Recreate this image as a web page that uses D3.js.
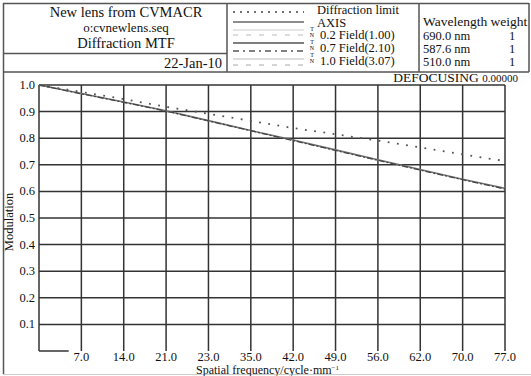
<!DOCTYPE html>
<html>
<head>
<meta charset="utf-8">
<script src="https://cdn.jsdelivr.net/npm/d3@7"></script>
<style>
  body { margin: 0; background: #fff; }
  text { font-family: "Liberation Serif", "Times New Roman", serif; fill: #111; }
</style>
</head>
<body>
<script>
// spatial frequency samples (cycle/mm)
const freq = [0, 7, 14, 21, 28, 35, 42, 49, 56, 63, 70, 77];
// modulation
const diffraction = [1.0, 0.974, 0.947, 0.918, 0.892, 0.865, 0.838, 0.815, 0.791, 0.765, 0.739, 0.714];
const axisMtf = [1.0, 0.968, 0.936, 0.903, 0.866, 0.829, 0.793, 0.756, 0.719, 0.682, 0.646, 0.612];
const field07 = [1.0, 0.967, 0.935, 0.902, 0.865, 0.828, 0.791, 0.754, 0.717, 0.680, 0.644, 0.609];

const xTicks = [7, 14, 21, 28, 35, 42, 49, 56, 63, 70, 77];
const xTickLabels = ['7.0', '14.0', '21.0', '23.0', '35.0', '42.0', '49.0', '56.0', '62.0', '70.0', '77.0'];
const yTicks = [0.1, 0.2, 0.3, 0.4, 0.5, 0.6, 0.7, 0.8, 0.9, 1.0];

const titleLines = ['New lens from CVMACR', 'o:cvnewlens.seq', 'Diffraction MTF'];
const dateLabel = '22-Jan-10';
const legendLabels = ['Diffraction limit', 'AXIS', '0.2 Field(1.00)', '0.7 Field(2.10)', '1.0 Field(3.07)'];
const wavelengths = ['690.0 nm', '587.6 nm', '510.0 nm'];
const weights = ['1', '1', '1'];

const W = 531, H = 376;
const svg = d3.select('body').append('svg').attr('width', W).attr('height', H);

const x = d3.scaleLinear().domain([0, 77]).range([39, 505]);
const y = d3.scaleLinear().domain([0, 1]).range([351, 85]);

const frame = '#555';

// outer frame
svg.append('line').attr('x1', 3.5).attr('x2', 3.5).attr('y1', 3).attr('y2', 374)
  .attr('stroke', frame).attr('stroke-width', 1.5);
svg.append('line').attr('x1', 3).attr('x2', 531).attr('y1', 374.5).attr('y2', 374.5)
  .attr('stroke', '#ccc').attr('stroke-width', 1);

// header boxes
const hdr = svg.append('g').attr('stroke', frame).attr('stroke-width', 1.5);
hdr.append('line').attr('x1', 3).attr('x2', 529).attr('y1', 3.5).attr('y2', 3.5);
hdr.append('line').attr('x1', 3).attr('x2', 227).attr('y1', 53.5).attr('y2', 53.5);
hdr.append('line').attr('x1', 3).attr('x2', 529).attr('y1', 72).attr('y2', 72);
hdr.append('line').attr('x1', 227).attr('x2', 227).attr('y1', 3).attr('y2', 72);
hdr.append('line').attr('x1', 419).attr('x2', 419).attr('y1', 3).attr('y2', 72);
hdr.append('line').attr('x1', 529).attr('x2', 529).attr('y1', 3).attr('y2', 72);

// title
svg.selectAll('.title').data(titleLines).enter().append('text')
  .attr('x', 126).attr('y', (d, i) => [17, 32, 48][i])
  .attr('text-anchor', 'middle')
  .style('font-size', (d, i) => i === 1 ? '13px' : '14.5px')
  .text(d => d);
svg.append('text').attr('x', 222).attr('y', 68).attr('text-anchor', 'end')
  .style('font-size', '14.5px').text(dateLabel);

// legend samples
const samples = [
  { y: 12, stroke: '#444', dash: '2,5', w: 1.6 },
  { y: 22, stroke: '#666', dash: null, w: 1.4 },
  { y: 30, stroke: '#ccc', dash: null, w: 1 },
  { y: 35, stroke: '#bbb', dash: '5,8', w: 1 },
  { y: 43, stroke: '#555', dash: null, w: 1.6 },
  { y: 51, stroke: '#555', dash: '6,4,2,4', w: 1.6 },
  { y: 59, stroke: '#bbb', dash: null, w: 1 },
  { y: 65, stroke: '#aaa', dash: '5,8', w: 1 },
];
svg.selectAll('.sample').data(samples).enter().append('line')
  .attr('x1', 233).attr('x2', 304)
  .attr('y1', d => d.y).attr('y2', d => d.y)
  .attr('stroke', d => d.stroke).attr('stroke-width', d => d.w)
  .attr('stroke-dasharray', d => d.dash);

svg.selectAll('.tn').data(['T', 'N', 'T', 'N', 'T', 'N']).enter().append('text')
  .attr('x', 312).attr('y', (d, i) => [31, 37, 44, 50, 57, 63][i])
  .attr('text-anchor', 'middle')
  .style('font-size', '6px').text(d => d);

svg.selectAll('.leg').data(legendLabels).enter().append('text')
  .attr('x', (d, i) => i < 2 ? 317 : 320)
  .attr('y', (d, i) => [14, 26.5, 39, 52, 65][i])
  .style('font-size', '12.5px')
  .text(d => d);

// wavelength box
svg.append('text').attr('x', 423).attr('y', 26).style('font-size', '13.5px').text('Wavelength weight');
svg.selectAll('.wl').data(wavelengths).enter().append('text')
  .attr('x', 423).attr('y', (d, i) => 40 + i * 13)
  .style('font-size', '12.5px').text(d => d);
svg.selectAll('.wt').data(weights).enter().append('text')
  .attr('x', 512).attr('y', (d, i) => 40 + i * 13)
  .attr('text-anchor', 'middle')
  .style('font-size', '12.5px').text(d => d);

// defocusing label
const def = svg.append('text').attr('x', 518).attr('y', 82).attr('text-anchor', 'end');
def.append('tspan').style('font-size', '13.5px').text('DEFOCUSING ');
def.append('tspan').style('font-size', '11px').text('0.00000');

// grid
const grid = svg.append('g').attr('stroke', '#333').attr('stroke-width', 1.5);
grid.selectAll('.hg').data(yTicks).enter().append('line')
  .attr('x1', x(0)).attr('x2', x(77))
  .attr('y1', d => y(d)).attr('y2', d => y(d));
grid.selectAll('.vg').data(xTicks).enter().append('line')
  .attr('x1', d => x(d)).attr('x2', d => x(d))
  .attr('y1', y(0)).attr('y2', y(1));
grid.append('line').attr('x1', x(0)).attr('x2', x(0)).attr('y1', y(0)).attr('y2', y(1));
grid.append('line').attr('x1', x(0)).attr('x2', x(4.9)).attr('y1', y(0)).attr('y2', y(0));

// y tick labels
svg.selectAll('.yl').data(yTicks).enter().append('text')
  .attr('x', 35).attr('y', d => y(d) + 4)
  .attr('text-anchor', 'end')
  .style('font-size', '12.5px')
  .text(d => d.toFixed(1));

// x tick labels
svg.selectAll('.xl').data(xTicks).enter().append('text')
  .attr('x', d => x(d)).attr('y', 360.5)
  .attr('text-anchor', 'middle')
  .style('font-size', '12.5px')
  .text((d, i) => xTickLabels[i]);

// axis titles
const xt = svg.append('text').attr('x', 196).attr('y', 373.5).style('font-size', '12px');
xt.append('tspan').text('Spatial frequency/cycle·mm');
xt.append('tspan').attr('dy', -4).style('font-size', '7px').text('−1');

svg.append('text')
  .attr('transform', `translate(13, ${222}) rotate(-90)`)
  .attr('text-anchor', 'middle')
  .style('font-size', '12.5px')
  .text('Modulation');

// curves
const line = vals => d3.line()
  .x((d, i) => x(freq[i]))
  .y(d => y(d))(vals);

svg.append('path').attr('d', line(axisMtf))
  .attr('fill', 'none').attr('stroke', '#777').attr('stroke-width', 1.6);
svg.append('path').attr('d', line(field07))
  .attr('fill', 'none').attr('stroke', '#444').attr('stroke-width', 1.3)
  .attr('stroke-dasharray', '6,2,2,2');
svg.append('path').attr('d', line(diffraction))
  .attr('fill', 'none').attr('stroke', '#555').attr('stroke-width', 1.8)
  .attr('stroke-dasharray', '1.8,7.5');
</script>
</body>
</html>
